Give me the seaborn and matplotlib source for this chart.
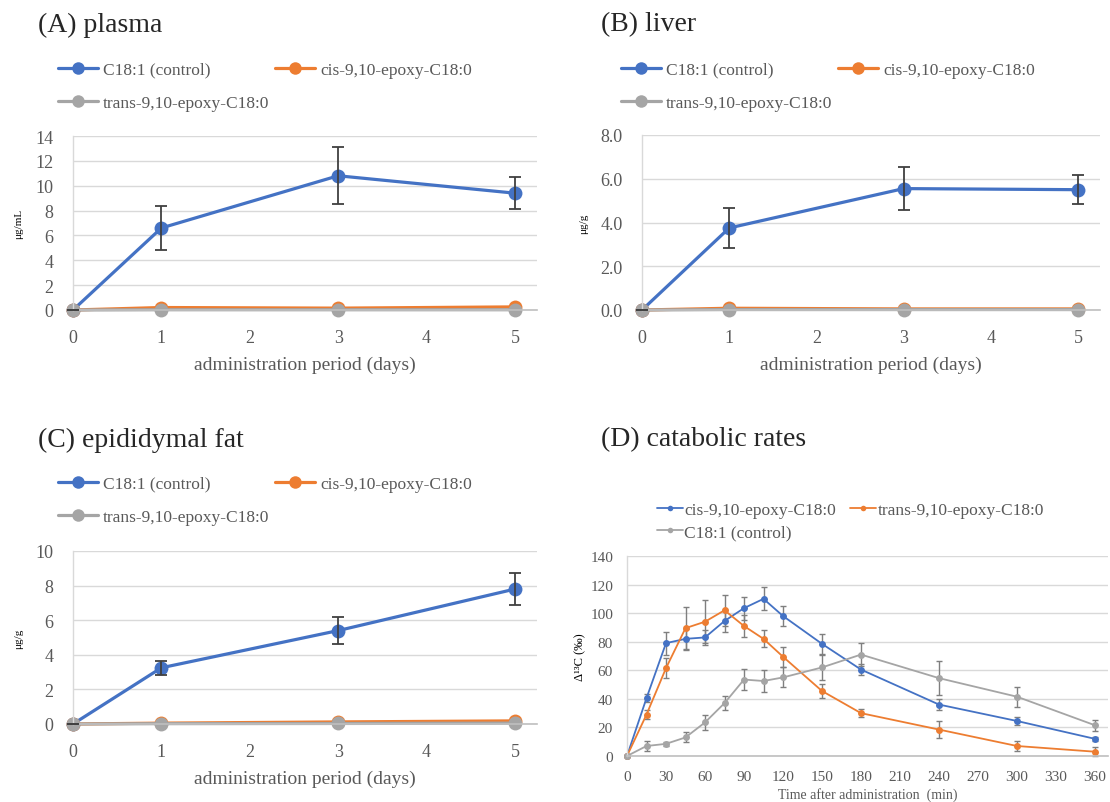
import matplotlib
matplotlib.use("Agg")
import matplotlib.pyplot as plt
from matplotlib.lines import Line2D
import seaborn as sns
import numpy as np
import pandas as pd

# administration period (days)
days = [0, 1, 3, 5]
series_abc = ["C18:1 (control)", "cis-9,10-epoxy-C18:0", "trans-9,10-epoxy-C18:0"]

# (A) plasma, ug/mL
plasma_ctrl = [0, 6.6, 10.8, 9.4]
plasma_ctrl_err = [0, 1.75, 2.3, 1.3]
plasma_cis = [0, 0.2, 0.15, 0.25]
plasma_trans = [0, 0.02, 0.02, 0.02]

# (B) liver, ug/g
liver_ctrl = [0, 3.75, 5.55, 5.5]
liver_ctrl_err = [0, 0.9, 1.0, 0.65]
liver_cis = [0, 0.08, 0.05, 0.05]
liver_trans = [0, 0.02, 0.02, 0.02]

# (C) epididymal fat, ug/g
fat_ctrl = [0, 3.25, 5.4, 7.8]
fat_ctrl_err = [0, 0.4, 0.8, 0.9]
fat_cis = [0, 0.05, 0.12, 0.18]
fat_trans = [0, 0.02, 0.03, 0.05]

# (D) catabolic rates
minutes = [0, 15, 30, 45, 60, 75, 90, 105, 120, 150, 180, 240, 300, 360]
series_d = ["cis-9,10-epoxy-C18:0", "trans-9,10-epoxy-C18:0", "C18:1 (control)"]
d_cis = [0, 40.5, 79, 82, 83, 94.5, 103.5, 110, 98, 78.5, 60.5, 36, 24.5, 12]
d_cis_err = [0, 3, 8, 7, 5, 8, 8, 8, 7, 7, 4, 4, 3, 1.5]
d_trans = [0, 29, 61.5, 89.5, 94, 102, 91, 82, 69.5, 45.5, 30, 18.5, 7, 3]
d_trans_err = [0, 3, 7, 15, 15, 11, 8, 6, 7, 5, 3, 6, 3.5, 3]
d_ctrl = [0, 7, 8.5, 13, 23.5, 37, 53.5, 52.5, 55, 62, 71, 54.5, 41.5, 21.5]
d_ctrl_err = [0, 3.5, 1.5, 3.5, 5, 5, 7.5, 7.5, 7, 9, 8, 12, 7, 4]

BLUE, ORANGE, GRAY = "#4472C4", "#ED7D31", "#A5A5A5"
TXT = "#595959"
GRID = "#D9D9D9"

sns.set_theme(style="white")
plt.rcParams["font.family"] = ["Liberation Serif", "DejaVu Serif"]

W, H = 1110, 803
fig = plt.figure(figsize=(W / 100, H / 100), dpi=100)


def px_axes(x0, y0, x1, y1):
    # pixel box (left, top, right, bottom) -> figure fraction
    return fig.add_axes([x0 / W, 1 - y1 / H, (x1 - x0) / W, (y1 - y0) / H])


def style_axes(ax, tick_size, pad):
    ax.grid(axis="y", color=GRID, lw=1)
    ax.grid(axis="x", visible=False)
    ax.set_axisbelow(True)
    for s in ["top", "right"]:
        ax.spines[s].set_visible(False)
    ax.spines["left"].set_color(GRID)
    ax.spines["left"].set_linewidth(1)
    ax.spines["bottom"].set_color("#BFBFBF")
    ax.spines["bottom"].set_linewidth(1.2)
    ax.tick_params(axis="both", length=0, labelsize=tick_size, colors=TXT, pad=pad)


def day_panel(ax, ctrl, err, cis, trans, ymax, ystep, ylabel, fmt, title, tx, ty, leg_y):
    df = pd.DataFrame({
        "day": days * 3,
        "value": ctrl + cis + trans,
        "series": np.repeat(series_abc, len(days)),
    })
    sns.lineplot(data=df, x="day", y="value", hue="series", hue_order=series_abc,
                 palette=[BLUE, ORANGE, GRAY], marker="o", markersize=10,
                 markeredgewidth=0, linewidth=2.3, legend=False, ax=ax)
    ax.errorbar(days, ctrl, yerr=err, fmt="none", ecolor="#404040",
                elinewidth=1.3, capsize=4, capthick=1.3, zorder=5)
    ax.set_xlim(0, 5.25)
    ax.set_ylim(0, ymax)
    ax.set_xticks(range(6))
    ticks = np.arange(0, ymax + ystep / 2, ystep)
    ax.set_yticks(ticks)
    ax.set_yticklabels([fmt.format(v) for v in ticks])
    style_axes(ax, 13, 14)
    for m in ax.lines:
        m.set_clip_on(False)
    ax.set_xlabel("administration period (days)", fontsize=14, color=TXT, labelpad=7)
    ax.set_ylabel(ylabel, fontsize=8, color="black", labelpad=9)
    fig.text(tx / W, 1 - ty / H, title, fontsize=20, va="center", ha="left")
    handles = [Line2D([], [], color=c, lw=2.3, marker="o", markersize=9, markeredgewidth=0)
               for c in (BLUE, GRAY, ORANGE)]
    labels = [series_abc[0], series_abc[2], series_abc[1]]
    ax.legend(handles, labels, ncol=2, loc="upper left",
              bbox_to_anchor=((tx + 11) / W, 1 - leg_y / H), bbox_transform=fig.transFigure,
              frameon=False, fontsize=12.5, labelcolor=TXT, handlelength=2.3,
              handletextpad=0.3, columnspacing=0.35, labelspacing=1.0, borderpad=0)


axA = px_axes(73, 137, 537, 311)
day_panel(axA, plasma_ctrl, plasma_ctrl_err, plasma_cis, plasma_trans, 14, 2,
          "μg/mL", "{:.0f}", "(A) plasma", 38, 25, 54)

axB = px_axes(642, 136, 1100, 311)
day_panel(axB, liver_ctrl, liver_ctrl_err, liver_cis, liver_trans, 8, 2,
          "μg/g", "{:.1f}", "(B) liver", 601, 25, 54)

axC = px_axes(73, 552, 537, 725)
day_panel(axC, fat_ctrl, fat_ctrl_err, fat_cis, fat_trans, 10, 2,
          "μg/g", "{:.0f}", "(C) epididymal fat", 38, 440, 468)

# (D) catabolic rates
axD = px_axes(627, 557, 1108, 757)
dfd = pd.DataFrame({
    "min": minutes * 3,
    "value": d_cis + d_trans + d_ctrl,
    "series": np.repeat(series_d, len(minutes)),
})
sns.lineplot(data=dfd, x="min", y="value", hue="series", hue_order=series_d,
             palette=[BLUE, ORANGE, GRAY], marker="o", markersize=5,
             markeredgewidth=0, linewidth=1.3, legend=False, ax=axD)
for vals, errs in [(d_cis, d_cis_err), (d_trans, d_trans_err), (d_ctrl, d_ctrl_err)]:
    axD.errorbar(minutes, vals, yerr=errs, fmt="none", ecolor="#7F7F7F",
                 elinewidth=1, capsize=2.5, capthick=1, zorder=1)
axD.set_xlim(0, 370)
axD.set_ylim(0, 140)
axD.set_xticks(range(0, 361, 30))
axD.set_yticks(range(0, 141, 20))
style_axes(axD, 11, 10)
for m in axD.lines:
    m.set_clip_on(False)
axD.set_xlabel("Time after administration  (min)", fontsize=10, color=TXT, labelpad=3)
axD.set_ylabel("Δ¹³C (‰)", fontsize=9, color="black", labelpad=3)
fig.text(601 / W, 1 - 440 / H, "(D) catabolic rates", fontsize=20, va="center", ha="left")
hd = [Line2D([], [], color=c, lw=1.3, marker="o", markersize=4, markeredgewidth=0)
      for c in (BLUE, GRAY, ORANGE)]
axD.legend(hd, [series_d[0], series_d[2], series_d[1]], ncol=2, loc="upper left",
           bbox_to_anchor=(648 / W, 1 - 494 / H), bbox_transform=fig.transFigure,
           frameon=False, fontsize=12.5, labelcolor=TXT, handlelength=1.5,
           handletextpad=0.1, columnspacing=0.8, labelspacing=0.35, borderpad=0)

fig.savefig("out.png", dpi=100)
